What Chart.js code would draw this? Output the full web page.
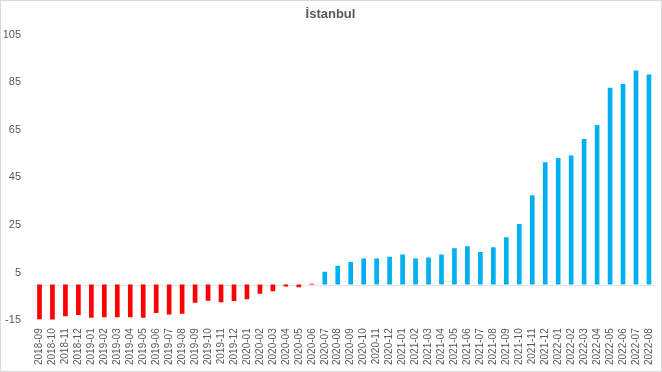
<!DOCTYPE html>
<html>
<head>
<meta charset="utf-8">
<title>İstanbul</title>
<script src="https://cdn.jsdelivr.net/npm/chart.js@4.4.1/dist/chart.umd.min.js"></script>
<style>
    html, body { margin: 0; padding: 0; background: #fff; }
    #wrap {
        width: 662px;
        height: 372px;
        box-sizing: border-box;
        border: 1px solid #d9d9d9;
    }
</style>
</head>
<body>
<div id="wrap">
    <canvas id="istChart" width="660" height="370"></canvas>
</div>

<script>
// =========================
// DATA
// =========================
const months = [
    "2018-09", "2018-10", "2018-11", "2018-12",
    "2019-01", "2019-02", "2019-03", "2019-04", "2019-05", "2019-06",
    "2019-07", "2019-08", "2019-09", "2019-10", "2019-11", "2019-12",
    "2020-01", "2020-02", "2020-03", "2020-04", "2020-05", "2020-06",
    "2020-07", "2020-08", "2020-09", "2020-10", "2020-11", "2020-12",
    "2021-01", "2021-02", "2021-03", "2021-04", "2021-05", "2021-06",
    "2021-07", "2021-08", "2021-09", "2021-10", "2021-11", "2021-12",
    "2022-01", "2022-02", "2022-03", "2022-04", "2022-05", "2022-06",
    "2022-07", "2022-08"
];

const values = [
    -14.6, -14.7, -13.3, -12.8,
    -13.9, -13.7, -13.7, -13.7, -13.9, -11.9,
    -12.6, -12.2, -7.6, -6.8, -7.4, -6.9,
    -6.2, -3.8, -2.8, -0.8, -1.1, 0.3,
    5.4, 7.9, 9.5, 11.0, 11.0, 11.7,
    12.6, 11.0, 11.4, 12.6, 15.3, 16.1,
    13.7, 15.7, 19.9, 25.4, 37.5, 51.4,
    53.2, 54.2, 61.1, 67.0, 82.7, 84.2,
    89.9, 88.2
];

const yTicks = [-15, 5, 25, 45, 65, 85, 105];

// first 22 months red, rest blue
const barColors = values.map((v, i) => i < 22 ? "#ff0000" : "#00b0f0");

// =========================
// ZERO LINE
// =========================
const zeroLine = {
    id: "zeroLine",
    beforeDatasetsDraw(chart) {
        const y = chart.scales.y.getPixelForValue(0);
        const area = chart.chartArea;
        const ctx = chart.ctx;
        ctx.save();
        ctx.strokeStyle = "#e6e6e6";
        ctx.lineWidth = 1;
        ctx.beginPath();
        ctx.moveTo(area.left, Math.round(y) + 0.5);
        ctx.lineTo(area.right, Math.round(y) + 0.5);
        ctx.stroke();
        ctx.restore();
    }
};

// =========================
// CHART
// =========================
new Chart(document.getElementById("istChart"), {
    type: "bar",
    data: {
        labels: months,
        datasets: [{
            data: values,
            backgroundColor: barColors,
            barPercentage: 0.36,
            categoryPercentage: 1
        }]
    },
    options: {
        responsive: false,
        animation: false,
        layout: {
            padding: { left: 3, right: 4, top: 0, bottom: 6 }
        },
        plugins: {
            legend: { display: false },
            tooltip: { enabled: false },
            title: {
                display: true,
                text: "İstanbul",
                color: "#595959",
                font: { family: "Liberation Sans, Arial", size: 13, weight: "bold" },
                padding: { top: 6, bottom: 12 }
            }
        },
        scales: {
            x: {
                grid: { display: false },
                border: { display: false },
                ticks: {
                    color: "#595959",
                    font: { family: "Liberation Sans, Arial", size: 10 },
                    minRotation: 90,
                    maxRotation: 90,
                    autoSkip: false,
                    padding: 0
                }
            },
            y: {
                min: -15,
                max: 105,
                afterBuildTicks: scale => {
                    scale.ticks = yTicks.map(v => ({ value: v }));
                },
                afterFit: scale => {
                    scale.width = 29;
                },
                grid: { display: false },
                border: { display: false },
                ticks: {
                    color: "#595959",
                    font: { family: "Liberation Sans, Arial", size: 11 },
                    padding: 4
                }
            }
        }
    },
    plugins: [zeroLine]
});
</script>
</body>
</html>
